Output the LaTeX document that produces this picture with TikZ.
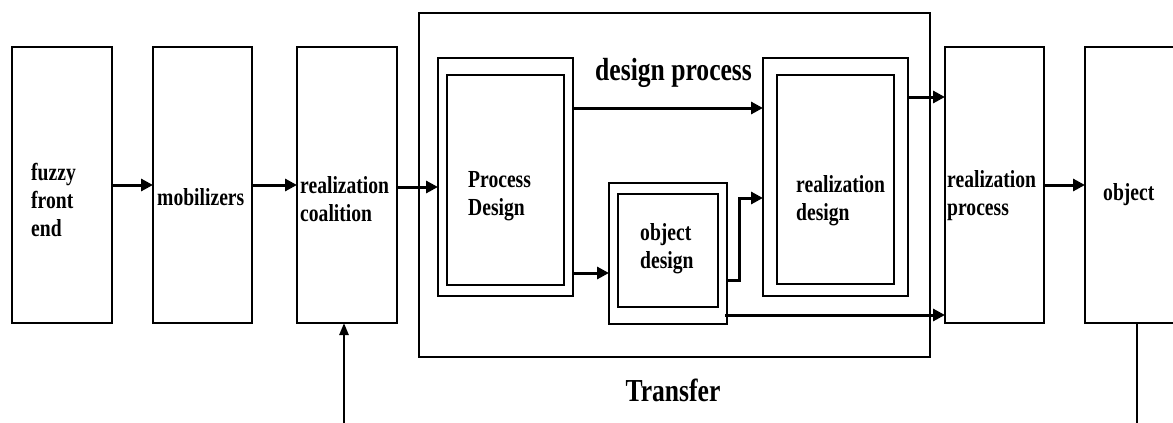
\documentclass[tikz,border=0pt]{standalone}
\usepackage{fontspec}
\setmainfont{Liberation Serif}[FakeStretch=0.8]
\usetikzlibrary{arrows.meta}
\begin{document}
\begin{tikzpicture}[x=1pt,y=-1pt,
  box/.style={draw,line width=1.8pt,rectangle,inner sep=0pt,outer sep=0pt},
  lab/.style={inner sep=0pt,anchor=west,align=left,font=\bfseries\fontsize{24.5}{28}\selectfont},
  big/.style={inner sep=0pt,font=\bfseries\fontsize{32}{36}\selectfont},
  arr/.style={line width=3pt,-{Triangle[length=12pt,width=12pt]}},
  thinarr/.style={line width=2.5pt,-{Triangle[length=12pt,width=9pt]}}]
\useasboundingbox (0,0) rectangle (1173,423);
% outer transfer box
\node[box,minimum width=511pt,minimum height=344pt] (outer) at (674.5,185) {};
% main boxes
\node[box,minimum width=100pt,minimum height=276pt] (fuzzy) at (62,185) {};
\node[box,minimum width=99pt,minimum height=276pt] (mob) at (202.5,185) {};
\node[box,minimum width=100pt,minimum height=276pt] (rc) at (347,185) {};
\node[box,minimum width=99pt,minimum height=276pt] (rp) at (994.5,185) {};
\node[box,minimum width=100pt,minimum height=276pt] (obj) at (1135,185) {};
% process design
\node[box,minimum width=135pt,minimum height=238pt] (pdo) at (505.5,177) {};
\node[box,minimum width=117pt,minimum height=210pt] (pdi) at (505.5,180) {};
% object design
\node[box,minimum width=118pt,minimum height=141pt] (odo) at (668,253.5) {};
\node[box,minimum width=100pt,minimum height=113pt] (odi) at (668,250.5) {};
% realization design
\node[box,minimum width=145pt,minimum height=238pt] (rdo) at (835.5,177) {};
\node[box,minimum width=117pt,minimum height=209pt] (rdi) at (835.5,179.5) {};
% labels
\node[lab] (tfuzzy) at (31,199.5) {fuzzy\\front\\end};
\node[lab] (tmob) at (157,197) {mobilizers};
\node[lab] (trc) at (300,199) {realization\\coalition};
\node[lab] (tpd) at (468,196) {Process\\Design};
\node[lab] (tod) at (640,248.5) {object\\design};
\node[lab] (trd) at (796,201) {realization\\design};
\node[lab] (trp) at (947,196) {realization\\process};
\node[lab] (tobj) at (1103,195) {object};
\node[big,anchor=west] (tdp) at (595,73) {design process};
\node[big] (ttr) at (673,390) {Transfer};
% connector end points
\coordinate (c1) at ([yshift=-2pt]rc.east);
\coordinate (c2) at ([yshift=-50pt]pdo.north east);
\coordinate (c3) at ([yshift=23pt]pdo.south east);
\coordinate (c4) at ([yshift=44pt]odo.south east);
\coordinate (c5) at ([yshift=-140pt]rdo.north west);
\coordinate (c6) at ([yshift=9pt,xshift=-2pt]odo.south east);
\coordinate (c7) at ([yshift=-39pt]rdo.north east);
\coordinate (b1) at (344,425);
\coordinate (b2) at (1137,425);
% connectors
\draw[arr] (fuzzy.east) -- (mob.west);
\draw[arr] (mob.east) -- (rc.west);
\draw[arr] (c1) -- (pdo.west |- c1);
\draw[arr] (c2) -- (rdo.west |- c2);
\draw[arr] (c3) -- (odo.west |- c3);
\draw[arr] (c4) -- ++(12,0) |- (c5);
\draw[arr] (c6) -- (rp.west |- c6);
\draw[arr] (c7) -- (rp.west |- c7);
\draw[arr] (rp.east) -- (obj.west);
\draw[thinarr] (b1) -- (b1 |- rc.south);
\draw[line width=2.5pt] (b2 |- obj.south) -- (b2);
\end{tikzpicture}
\end{document}
